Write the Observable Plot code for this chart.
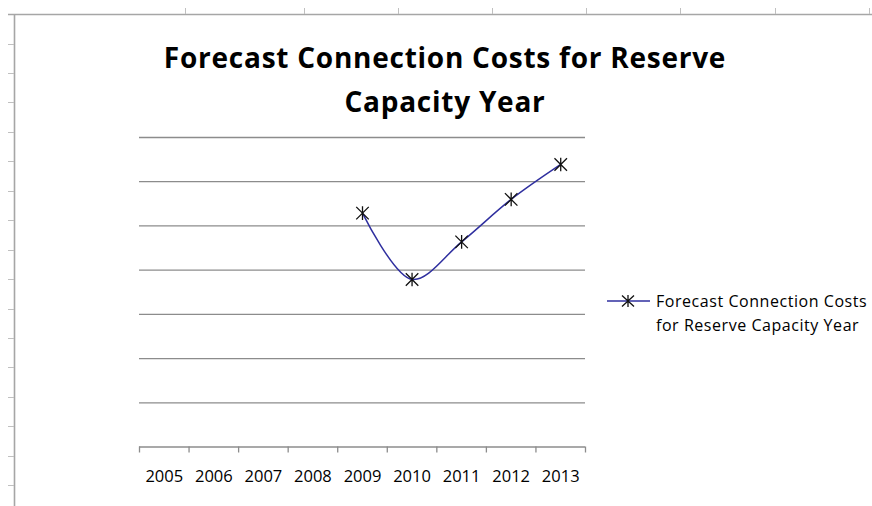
<!DOCTYPE html>
<html>
<head>
<meta charset="utf-8">
<script src="https://cdn.jsdelivr.net/npm/d3@7"></script>
<script src="https://cdn.jsdelivr.net/npm/@observablehq/plot@0.6"></script>
<style>
  html, body { margin: 0; padding: 0; background: #fff; }
  #wrap { position: relative; width: 872px; height: 506px; overflow: hidden; background: #fff; font-family: "Open Sans", sans-serif; }
  #wrap > svg { position: absolute; left: 0; top: 0; }
</style>
</head>
<body>
<div id="wrap"></div>
<script>
// ---- data ----
const categories = [2005, 2006, 2007, 2008, 2009, 2010, 2011, 2012, 2013];
const seriesYears = [2009, 2010, 2011, 2012, 2013];
const seriesValues = [52.9, 37.9, 46.4, 56.0, 63.9];
const gridValues = [0, 10, 20, 30, 40, 50, 60, 70];
const titleLines = ["Forecast Connection Costs for Reserve", "Capacity Year"];
const legendLines = ["Forecast Connection Costs", "for Reserve Capacity Year"];

const data = seriesYears.map((year, i) => ({year, cost: seriesValues[i]}));
const boundaries = categories.map(c => c - 0.5).concat([categories[categories.length - 1] + 0.5]);

// Excel-style star marker: an X plus a vertical bar
const excelStar = {
  draw(ctx, size) {
    const s = Math.sqrt(size / Math.PI);
    const d = s * 0.92;
    ctx.moveTo(0, -s); ctx.lineTo(0, s);
    ctx.moveTo(-d, -d); ctx.lineTo(d, d);
    ctx.moveTo(-d, d); ctx.lineTo(d, -d);
  }
};

const gridColor = "#8c8c8c";
const lineColor = "#2f2f9f";

const chart = Plot.plot({
  width: 872,
  height: 506,
  marginLeft: 139,
  marginRight: 287,
  marginTop: 137,
  marginBottom: 59.5,
  x: {type: "linear", domain: [boundaries[0], boundaries[boundaries.length - 1]], label: null},
  y: {domain: [gridValues[0], gridValues[gridValues.length - 1]], axis: null},
  style: {fontFamily: "'Open Sans', sans-serif", background: "transparent", overflow: "visible"},
  marks: [
    Plot.ruleY(gridValues, {stroke: gridColor, strokeWidth: 1.3}),
    Plot.axisX({ticks: boundaries, tickSize: 6, tickFormat: () => "", stroke: gridColor, strokeWidth: 1.3}),
    Plot.axisX({ticks: categories, tickSize: 0, tickPadding: 23, tickFormat: d => String(d), fontSize: 16.5, fill: "#000", style: {letterSpacing: "0.4px"}}),
    Plot.line(data, {x: "year", y: "cost", curve: "catmull-rom", stroke: lineColor, strokeWidth: 1.5}),
    Plot.dot(data, {x: "year", y: "cost", symbol: excelStar, r: 6.8, fill: "none", stroke: "#111", strokeWidth: 1.3})
  ]
});
document.getElementById("wrap").appendChild(chart);

// ---- decoration overlay: sheet edges, title, legend ----
const NS = "http://www.w3.org/2000/svg";
const ov = document.createElementNS(NS, "svg");
ov.setAttribute("width", 872); ov.setAttribute("height", 506);
ov.style.position = "absolute"; ov.style.left = "0"; ov.style.top = "0";
document.getElementById("wrap").appendChild(ov);
function el(tag, attrs, text) {
  const e = document.createElementNS(NS, tag);
  for (const k in attrs) e.setAttribute(k, attrs[k]);
  if (text != null) e.textContent = text;
  ov.appendChild(e);
  return e;
}
const edge = "#a6a6a6";
el("line", {x1: 8, x2: 872, y1: 14.5, y2: 14.5, stroke: edge, "stroke-width": 1.6});
el("line", {x1: 14.5, x2: 14.5, y1: 14, y2: 506, stroke: edge, "stroke-width": 1.6});
[185, 304, 398, 492, 586, 680, 775, 869].forEach(x =>
  el("line", {x1: x + 0.5, x2: x + 0.5, y1: 8, y2: 14, stroke: "#c0c0c0", "stroke-width": 1}));
for (let i = 0; i < 16; i++) {
  const y = Math.round(43.5 + i * 29.45) + 0.5;
  el("line", {x1: 8, x2: 14, y1: y, y2: y, stroke: "#c0c0c0", "stroke-width": 1});
}
// title
const titleStyle = {"text-anchor": "middle", "font-family": "'Open Sans', sans-serif", "font-weight": "bold", "font-size": 28, fill: "#000", "letter-spacing": "0.75px"};
el("text", Object.assign({x: 445, y: 68}, titleStyle), titleLines[0]);
el("text", Object.assign({x: 445, y: 112}, titleStyle), titleLines[1]);
// legend
el("line", {x1: 607, x2: 650, y1: 301, y2: 301, stroke: lineColor, "stroke-width": 1.5});
el("path", {d: "M628,295V307M622,295.5L634,306.5M622,306.5L634,295.5", stroke: "#111", "stroke-width": 1.3, fill: "none"});
const legendStyle = {"font-family": "'Open Sans', sans-serif", "font-size": 16, fill: "#000", "letter-spacing": "0.55px"};
el("text", Object.assign({x: 656, y: 307}, legendStyle), legendLines[0]);
el("text", Object.assign({x: 656, y: 331}, legendStyle), legendLines[1]);
</script>
</body>
</html>
